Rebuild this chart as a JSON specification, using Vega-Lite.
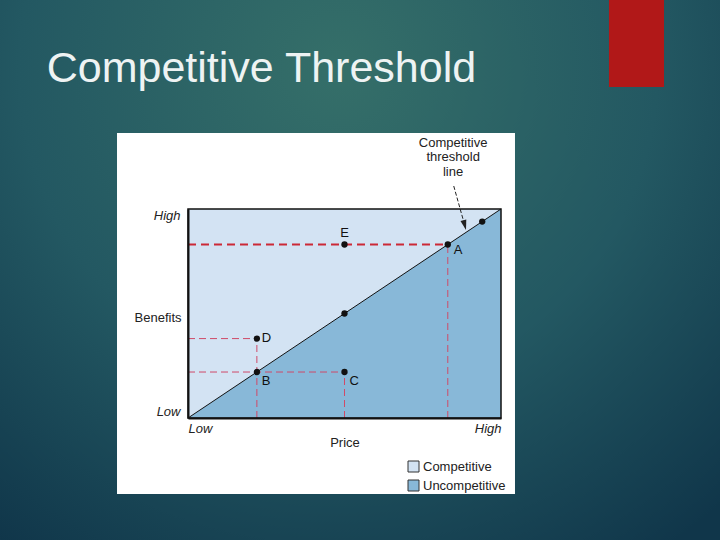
{
  "$schema": "https://vega.github.io/schema/vega-lite/v6.json",
  "width": 313,
  "height": 209,
  "autosize": {"type": "none"},
  "padding": {"left": 188, "top": 209, "right": 219, "bottom": 122},
  "background": "#1b4651",
  "config": {"view": {"stroke": null}, "font": "Liberation Sans"},
  "title": {
    "text": "Competitive Threshold",
    "anchor": "start",
    "frame": "group",
    "orient": "top",
    "offset": 0,
    "dx": -141.3,
    "dy": 125,
    "baseline": "alphabetic",
    "font": "Liberation Sans",
    "fontSize": 43,
    "fontWeight": "normal",
    "color": "#eef3f3"
  },
  "datasets": {
    "regions": [
      {"region": "Competitive", "price": 0, "lo": 0, "hi": 1},
      {"region": "Competitive", "price": 1, "lo": 1, "hi": 1},
      {"region": "Uncompetitive", "price": 0, "lo": 0, "hi": 0},
      {"region": "Uncompetitive", "price": 1, "lo": 0, "hi": 1}
    ],
    "threshold": [
      {"price": 0, "benefit": 0},
      {"price": 1, "benefit": 1}
    ],
    "offers": [
      {"label": "A", "price": 0.83, "benefit": 0.83},
      {"label": "B", "price": 0.22, "benefit": 0.22},
      {"label": "C", "price": 0.5, "benefit": 0.22},
      {"label": "D", "price": 0.22, "benefit": 0.38},
      {"label": "E", "price": 0.5, "benefit": 0.83},
      {"label": "", "price": 0.5, "benefit": 0.5},
      {"label": "", "price": 0.94, "benefit": 0.94}
    ],
    "guides": [
      {"segment": "A benefit", "price": 0, "price2": 0.83, "benefit": 0.83, "benefit2": 0.83},
      {"segment": "A price", "price": 0.83, "price2": 0.83, "benefit": 0, "benefit2": 0.83},
      {"segment": "D benefit", "price": 0, "price2": 0.22, "benefit": 0.38, "benefit2": 0.38},
      {"segment": "D price", "price": 0.22, "price2": 0.22, "benefit": 0, "benefit2": 0.38},
      {"segment": "B benefit", "price": 0, "price2": 0.5, "benefit": 0.22, "benefit2": 0.22},
      {"segment": "C price", "price": 0.5, "price2": 0.5, "benefit": 0, "benefit2": 0.22}
    ],
    "callout": [
      {"note": "Competitive\nthreshold\nline", "price": 0.847, "benefit": 1.318,
       "tail_price": 0.849, "tail_benefit": 1.11, "tip_price": 0.884, "tip_benefit": 0.923}
    ]
  },
  "layer": [
    {
      "data": {"values": [{}]},
      "mark": {
        "type": "rect",
        "fill": {
          "gradient": "radial",
          "x1": 0.47, "y1": 0.22, "r1": 0,
          "x2": 0.47, "y2": 0.22, "r2": 0.8,
          "stops": [
            {"offset": 0, "color": "#356f69"},
            {"offset": 0.55, "color": "#235862"},
            {"offset": 1, "color": "#10364a"}
          ]
        }
      },
      "encoding": {
        "x": {"datum": -0.61, "scale": {"domain": [0, 1]}},
        "x2": {"datum": 1.71},
        "y": {"datum": 2.0, "scale": {"domain": [0, 1]}},
        "y2": {"datum": -0.6}
      }
    },
    {
      "data": {"values": [{}]},
      "mark": {"type": "rect", "fill": "#b11818"},
      "encoding": {
        "x": {"datum": 1.345, "scale": {"domain": [0, 1]}},
        "x2": {"datum": 1.5208},
        "y": {"datum": 2.0, "scale": {"domain": [0, 1]}},
        "y2": {"datum": 1.5837}
      }
    },
    {
      "data": {"values": [{}]},
      "mark": {"type": "rect", "fill": "#ffffff"},
      "encoding": {
        "x": {"datum": -0.2268, "scale": {"domain": [0, 1]}},
        "x2": {"datum": 1.0447},
        "y": {"datum": 1.3636, "scale": {"domain": [0, 1]}},
        "y2": {"datum": -0.3636}
      }
    },
    {
      "data": {"name": "regions"},
      "mark": {"type": "area", "opacity": 1},
      "encoding": {
        "x": {
          "field": "price", "type": "quantitative", "title": "Price",
          "scale": {"domain": [0, 1]},
          "axis": {
            "values": [0, 1],
            "labelExpr": "datum.value == 0 ? 'Low' : 'High'",
            "labelFlush": true,
            "labelFontStyle": "italic",
            "labelFont": "Liberation Sans",
            "labelFontSize": 13,
            "labelColor": "#222222",
            "labelPadding": 4,
            "ticks": false,
            "tickSize": 0,
            "grid": false,
            "domainColor": "#111111",
            "domainWidth": 2,
            "titleFont": "Liberation Sans",
            "titleFontSize": 13,
            "titleFontWeight": "normal",
            "titleColor": "#222222",
            "titlePadding": 1,
            "zindex": 1
          }
        },
        "y": {
          "field": "lo", "type": "quantitative", "title": "Benefits",
          "scale": {"domain": [0, 1]},
          "axis": {
            "values": [0, 1],
            "labelExpr": "datum.value == 0 ? 'Low' : 'High'",
            "labelFlush": true,
            "labelFontStyle": "italic",
            "labelFont": "Liberation Sans",
            "labelFontSize": 13,
            "labelColor": "#222222",
            "labelPadding": 8,
            "ticks": false,
            "tickSize": 0,
            "grid": false,
            "domainColor": "#111111",
            "domainWidth": 2,
            "titleFont": "Liberation Sans",
            "titleFontSize": 13,
            "titleFontWeight": "normal",
            "titleColor": "#222222",
            "titleAngle": 0,
            "titleAlign": "right",
            "titleBaseline": "middle",
            "titleX": -7,
            "titleY": 108,
            "zindex": 1
          }
        },
        "y2": {"field": "hi"},
        "color": {
          "field": "region", "type": "nominal",
          "scale": {"domain": ["Competitive", "Uncompetitive"], "range": ["#d3e3f3", "#88b8d8"]},
          "legend": {
            "orient": "none",
            "legendX": 219,
            "legendY": 251,
            "title": null,
            "padding": 0,
            "symbolType": "square",
            "symbolSize": 121,
            "symbolStrokeColor": "#333333",
            "symbolStrokeWidth": 1,
            "symbolOpacity": 1,
            "labelFont": "Liberation Sans",
            "labelFontSize": 13,
            "labelColor": "#222222",
            "labelOffset": 3,
            "rowPadding": 4
          }
        }
      }
    },
    {
      "data": {"name": "threshold"},
      "mark": {"type": "line", "color": "#111111", "strokeWidth": 1},
      "encoding": {
        "x": {"field": "price", "type": "quantitative", "scale": {"domain": [0, 1]}},
        "y": {"field": "benefit", "type": "quantitative", "scale": {"domain": [0, 1]}}
      }
    },
    {
      "data": {"name": "guides"},
      "transform": [{"filter": "datum.segment == 'A benefit'"}],
      "mark": {"type": "rule", "color": "#cc2936", "strokeWidth": 2, "strokeDash": [8, 5]},
      "encoding": {
        "x": {"field": "price", "type": "quantitative", "scale": {"domain": [0, 1]}},
        "x2": {"field": "price2"},
        "y": {"field": "benefit", "type": "quantitative", "scale": {"domain": [0, 1]}},
        "y2": {"field": "benefit2"}
      }
    },
    {
      "data": {"name": "guides"},
      "transform": [{"filter": "datum.segment != 'A benefit'"}],
      "mark": {"type": "rule", "color": "#cf4a68", "strokeWidth": 1, "strokeDash": [7, 4]},
      "encoding": {
        "x": {"field": "price", "type": "quantitative", "scale": {"domain": [0, 1]}},
        "x2": {"field": "price2"},
        "y": {"field": "benefit", "type": "quantitative", "scale": {"domain": [0, 1]}},
        "y2": {"field": "benefit2"}
      }
    },
    {
      "data": {"name": "callout"},
      "mark": {"type": "rule", "color": "#222222", "strokeWidth": 1, "strokeDash": [4, 2]},
      "encoding": {
        "x": {"field": "tail_price", "type": "quantitative", "scale": {"domain": [0, 1]}},
        "x2": {"field": "tip_price"},
        "y": {"field": "tail_benefit", "type": "quantitative", "scale": {"domain": [0, 1]}},
        "y2": {"field": "tip_benefit"}
      }
    },
    {
      "data": {"name": "callout"},
      "mark": {"type": "point", "shape": "M-0.6,-1L0.6,-1L0,1Z", "filled": true, "color": "#222222", "opacity": 1, "size": 100, "angle": -15},
      "encoding": {
        "x": {"field": "tip_price", "type": "quantitative", "scale": {"domain": [0, 1]}},
        "y": {"field": "tip_benefit", "type": "quantitative", "scale": {"domain": [0, 1]}}
      }
    },
    {
      "data": {"name": "callout"},
      "mark": {"type": "text", "lineBreak": "\n", "lineHeight": 14.5, "align": "center", "baseline": "middle", "font": "Liberation Sans", "fontSize": 13, "color": "#222222"},
      "encoding": {
        "x": {"field": "price", "type": "quantitative", "scale": {"domain": [0, 1]}},
        "y": {"field": "benefit", "type": "quantitative", "scale": {"domain": [0, 1]}},
        "text": {"field": "note"}
      }
    },
    {
      "data": {"values": [{}]},
      "mark": {"type": "rect", "fillOpacity": 0, "stroke": "#111111", "strokeWidth": 1.5},
      "encoding": {
        "x": {"datum": 0, "scale": {"domain": [0, 1]}},
        "x2": {"datum": 1},
        "y": {"datum": 0, "scale": {"domain": [0, 1]}},
        "y2": {"datum": 1}
      }
    },
    {
      "data": {"name": "offers"},
      "mark": {"type": "circle", "color": "#111111", "opacity": 1, "size": 40},
      "encoding": {
        "x": {"field": "price", "type": "quantitative", "scale": {"domain": [0, 1]}},
        "y": {"field": "benefit", "type": "quantitative", "scale": {"domain": [0, 1]}}
      }
    },
    {
      "data": {"name": "offers"},
      "transform": [{"filter": "datum.label == 'E'"}],
      "mark": {"type": "text", "align": "center", "baseline": "middle", "dy": -12, "font": "Liberation Sans", "fontSize": 13, "color": "#111111"},
      "encoding": {
        "x": {"field": "price", "type": "quantitative", "scale": {"domain": [0, 1]}},
        "y": {"field": "benefit", "type": "quantitative", "scale": {"domain": [0, 1]}},
        "text": {"field": "label"}
      }
    },
    {
      "data": {"name": "offers"},
      "transform": [{"filter": "datum.label == 'A'"}],
      "mark": {"type": "text", "align": "left", "baseline": "middle", "dx": 6, "dy": 5, "font": "Liberation Sans", "fontSize": 13, "color": "#111111"},
      "encoding": {
        "x": {"field": "price", "type": "quantitative", "scale": {"domain": [0, 1]}},
        "y": {"field": "benefit", "type": "quantitative", "scale": {"domain": [0, 1]}},
        "text": {"field": "label"}
      }
    },
    {
      "data": {"name": "offers"},
      "transform": [{"filter": "datum.label == 'D'"}],
      "mark": {"type": "text", "align": "left", "baseline": "middle", "dx": 5, "dy": -1, "font": "Liberation Sans", "fontSize": 13, "color": "#111111"},
      "encoding": {
        "x": {"field": "price", "type": "quantitative", "scale": {"domain": [0, 1]}},
        "y": {"field": "benefit", "type": "quantitative", "scale": {"domain": [0, 1]}},
        "text": {"field": "label"}
      }
    },
    {
      "data": {"name": "offers"},
      "transform": [{"filter": "datum.label == 'B' || datum.label == 'C'"}],
      "mark": {"type": "text", "align": "left", "baseline": "middle", "dx": 5, "dy": 8.5, "font": "Liberation Sans", "fontSize": 13, "color": "#111111"},
      "encoding": {
        "x": {"field": "price", "type": "quantitative", "scale": {"domain": [0, 1]}},
        "y": {"field": "benefit", "type": "quantitative", "scale": {"domain": [0, 1]}},
        "text": {"field": "label"}
      }
    }
  ]
}
